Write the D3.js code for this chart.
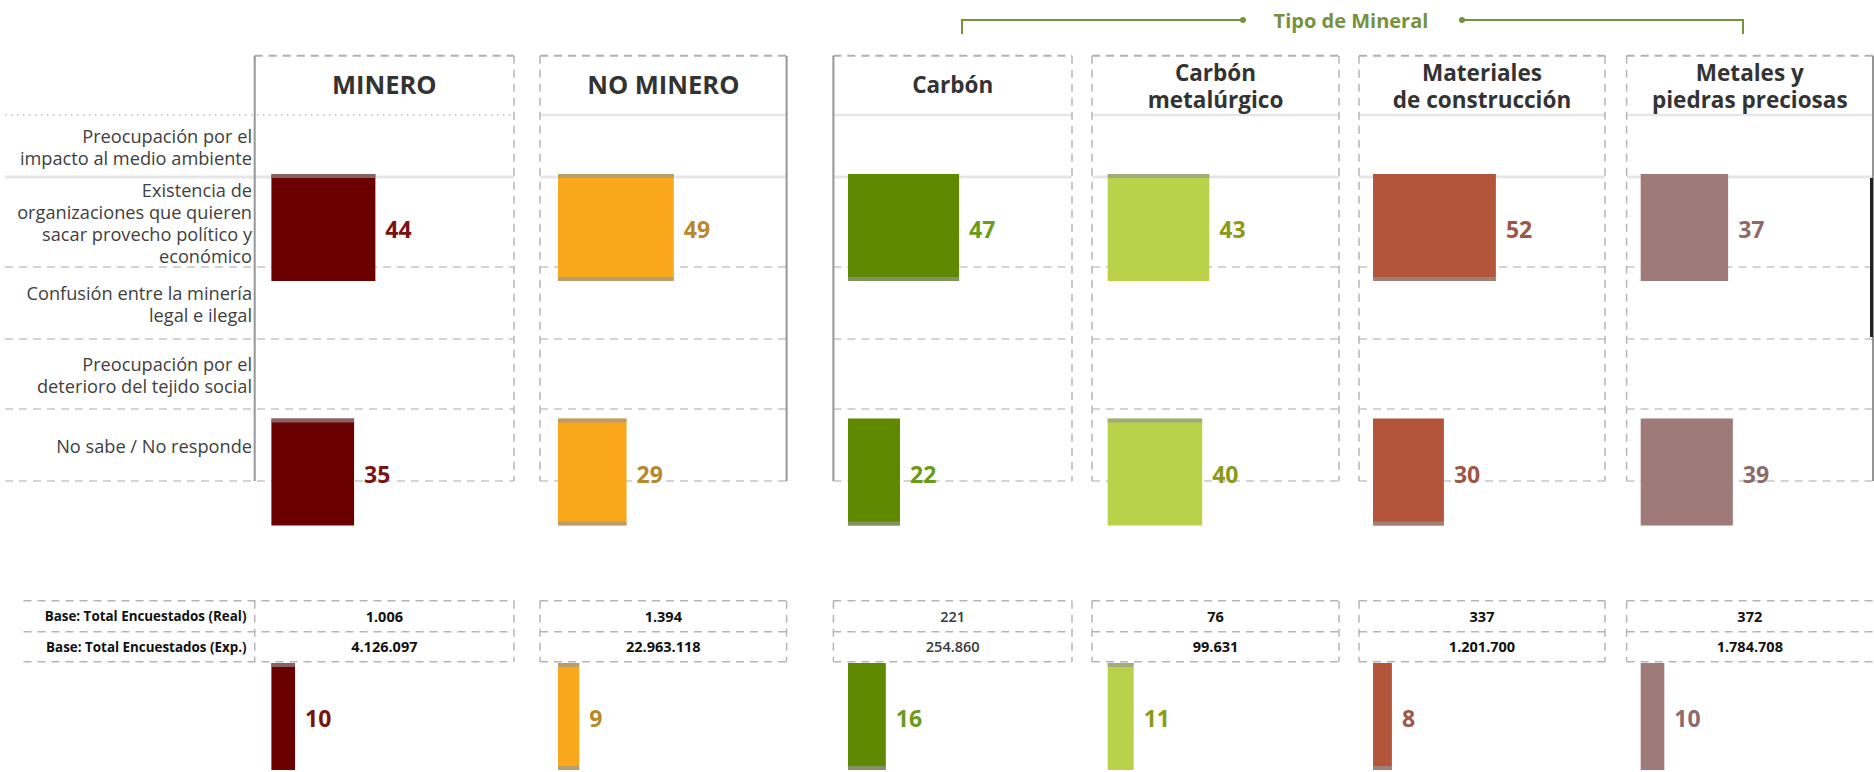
<!DOCTYPE html>
<html><head><meta charset="utf-8">
<script src="https://cdn.jsdelivr.net/npm/d3@7"></script>
<style>html,body{margin:0;padding:0;background:#fff;}svg{display:block;font-family:"Open Sans",sans-serif;}</style>
</head><body><svg id="c" width="1874" height="772"></svg>
<script>
// ---------- DATA ----------
const panels = ["MINERO","NO MINERO","Carbón","Carbón metalúrgico","Materiales de construcción","Metales y piedras preciosas"];
const headerLines = [["MINERO"],["NO MINERO"],["Carbón"],["Carbón","metalúrgico"],["Materiales","de construcción"],["Metales y","piedras preciosas"]];
const barGroups = ["g1","g2","g3"];
const serieG1 = [44,49,47,43,52,37];
const serieG2 = [35,29,22,40,30,39];
const serieG3 = [10,9,16,11,8,10];
const baseReal = ["1.006","1.394","221","76","337","372"];
const baseExp = ["4.126.097","22.963.118","254.860","99.631","1.201.700","1.784.708"];
const rowLabels = [
  ["Preocupación por el","impacto al medio ambiente"],
  ["Existencia de","organizaciones que quieren","sacar provecho político y","económico"],
  ["Confusión entre la minería","legal e ilegal"],
  ["Preocupación por el","deterioro del tejido social"],
  ["No sabe / No responde"]
];
const tableLabels = ["Base: Total Encuestados (Real)","Base: Total Encuestados (Exp.)"];
const groupTitle = "Tipo de Mineral";

// ---------- LAYOUT / STYLE ----------
const panelLeft  = [254.7, 540, 833.4, 1092, 1359, 1626.6];
const panelRight = [514, 786.6, 1072, 1339, 1605, 1873];
const barStart   = [271.4, 558, 848, 1107.7, 1373, 1640.7];
const barColor   = ["#6b0000","#f8a81a","#5f8a00","#bad24a","#b3553a","#9e7b79"];
const labelColor = ["#7a1212","#b8882c","#6a9c1a","#8a9a18","#9e5646","#8d6a6a"];
const capTop     = [1,1,0,1,0,0];
const capBottom  = [0,1,1,0,1,0];
const leftSolid  = [1,0,1,0,0,0];
const rightSolid = [0,1,0,0,0,1];
const rowBounds  = [115,177,267,339,409,481];
const panelTop = 55.7;
const green = "#76923c";

const svg = d3.select("#c");
const series = [serieG1, serieG2, serieG3];

const x = d3.scaleLinear().domain([0,100]).range([0,236.3]);
const yBand = d3.scaleBand().domain(barGroups).range([174,770]).paddingInner(0.5624).paddingOuter(0);

// ---------- GRID LINES ----------
const gGrid = svg.append("g");
panels.forEach((p,i)=>{
  const x0 = i===0 ? 5 : panelLeft[i];
  const x1 = panelRight[i];
  rowBounds.forEach((yv,k)=>{
    const ln = gGrid.append("line").attr("x1",x0).attr("x2",x1).attr("y1",yv).attr("y2",yv);
    if(k===0){
      if(i===0) ln.attr("stroke","#bdbdbd").attr("stroke-width",1.5).attr("stroke-dasharray","1.5,4.5");
      else ln.attr("stroke","#e6e6e6").attr("stroke-width",2.5);
    } else if(k===1){
      ln.attr("stroke","#e6e6e6").attr("stroke-width",3);
    } else {
      ln.attr("stroke","#d4d4d4").attr("stroke-width",2).attr("stroke-dasharray","8,6");
    }
  });
  gGrid.append("line").attr("x1",panelLeft[i]).attr("x2",panelRight[i]).attr("y1",panelTop).attr("y2",panelTop)
    .attr("stroke","#b0b0b0").attr("stroke-width",2).attr("stroke-dasharray","8,6");
  [[panelLeft[i],leftSolid[i]],[panelRight[i],rightSolid[i]]].forEach(([xv,solid])=>{
    const v = gGrid.append("line").attr("x1",xv).attr("x2",xv).attr("y1",panelTop).attr("y2",481);
    if(solid) v.attr("stroke","#959595").attr("stroke-width",2);
    else v.attr("stroke","#b5b5b5").attr("stroke-width",1.5).attr("stroke-dasharray","8,6");
  });
});
gGrid.append("line").attr("x1",1871.5).attr("x2",1871.5).attr("y1",178).attr("y2",337).attr("stroke","#222").attr("stroke-width",3);

// ---------- BRACKET ----------
const gB = svg.append("g").attr("stroke",green).attr("stroke-width",2).attr("fill","none");
gB.append("path").attr("d","M962,34V20H1243");
gB.append("path").attr("d","M1462,20H1743V34");
svg.append("circle").attr("cx",1243).attr("cy",20).attr("r",3).attr("fill",green);
svg.append("circle").attr("cx",1462).attr("cy",20).attr("r",3).attr("fill",green);
svg.append("text").attr("x",1351).attr("y",20).attr("text-anchor","middle").attr("dominant-baseline","central")
  .attr("font-size",20).attr("font-weight","bold").attr("fill",green).text(groupTitle);

// ---------- HEADERS ----------
headerLines.forEach((lines,i)=>{
  const cx = (panelLeft[i]+panelRight[i])/2;
  const big = i<2;
  const t = svg.append("text").attr("text-anchor","middle")
    .attr("font-size",big?25.5:22.5).attr("font-weight","bold").attr("fill","#333");
  if(lines.length===1){
    t.append("tspan").attr("x",cx).attr("y",big?94:93).text(lines[0]);
  } else {
    t.append("tspan").attr("x",cx).attr("y",81).text(lines[0]);
    t.append("tspan").attr("x",cx).attr("dy",26.6).text(lines[1]);
  }
});

// ---------- ROW LABELS ----------
rowLabels.forEach((lines,r)=>{
  const mid = (rowBounds[r]+rowBounds[r+1])/2;
  const lh = 22;
  const start = r===4 ? 447 : mid - (lines.length-1)*lh/2 + 1.5;
  const t = svg.append("text").attr("text-anchor","end").attr("font-size",18.2).attr("fill","#404040");
  lines.forEach((s,k)=>{
    t.append("tspan").attr("x",252).attr("y",start+k*lh+6.3).text(s);
  });
});

// ---------- TABLE ----------
const tY = [600.7,631.7,661.7];
const gT = svg.append("g").attr("stroke","#b5b5b5").attr("stroke-width",1.5).attr("stroke-dasharray","8,6");
panels.forEach((p,i)=>{
  const x0 = i===0 ? 23.5 : panelLeft[i];
  tY.forEach(yv=>gT.append("line").attr("x1",x0).attr("x2",panelRight[i]===1873?1874:panelRight[i]).attr("y1",yv).attr("y2",yv));
  [panelLeft[i], panelRight[i]].forEach(xv=>{
    if(xv<1870) gT.append("line").attr("x1",xv).attr("x2",xv).attr("y1",tY[0]).attr("y2",tY[2]);
  });
});
tableLabels.forEach((t,k)=>{
  svg.append("text").attr("x",246.5).attr("y",(tY[k]+tY[k+1])/2).attr("text-anchor","end").attr("dominant-baseline","central")
    .attr("font-size",13.4).attr("font-weight","bold").attr("fill","#111").text(t);
});
[baseReal, baseExp].forEach((arr,k)=>{
  arr.forEach((v,i)=>{
    svg.append("text").attr("x",(panelLeft[i]+panelRight[i])/2).attr("y",(tY[k]+tY[k+1])/2)
      .attr("text-anchor","middle").attr("dominant-baseline","central")
      .attr("font-size",14.5).attr("font-weight",i===2?600:"bold").attr("fill",i===2?"#3a3a3a":"#111").text(v);
  });
});

// ---------- BARS ----------
const gBars = svg.append("g");
barGroups.forEach((g,gi)=>{
  const vals = series[gi];
  vals.forEach((v,i)=>{
    const bx = barStart[i], by = yBand(g), bw = x(v), bh = yBand.bandwidth();
    gBars.append("rect").attr("x",bx).attr("y",by).attr("width",bw).attr("height",bh).attr("fill",barColor[i]);
    if(capTop[i]) gBars.append("rect").attr("x",bx).attr("y",by).attr("width",bw).attr("height",4).attr("fill","rgba(150,150,150,0.65)");
    if(capBottom[i]) gBars.append("rect").attr("x",bx).attr("y",by+bh-4).attr("width",bw).attr("height",4).attr("fill","rgba(150,150,150,0.65)");
    gBars.append("text").attr("x",bx+bw+10).attr("y",by+bh/2+1.5).attr("dominant-baseline","central")
      .attr("font-size",23).attr("font-weight","bold").attr("fill",labelColor[i]).text(v);
  });
});
</script></body></html>
